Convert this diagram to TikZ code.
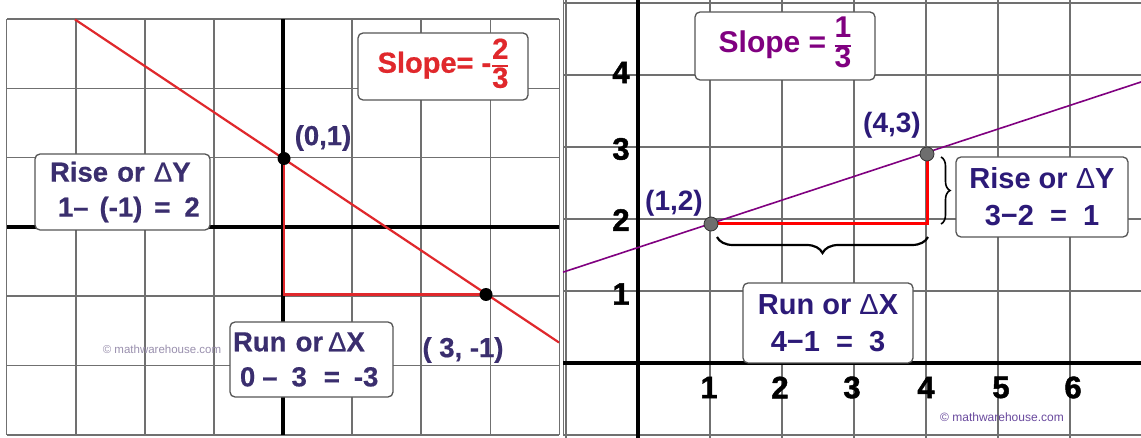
\documentclass[tikz,border=0pt]{standalone}
\usepackage{fontspec}
\setmainfont{Liberation Sans}
\newfontfamily\tickfont{Liberation Sans}[FakeBold=1.5]
\newfontfamily\semifont{Liberation Sans}[FakeBold=0.6]
\usetikzlibrary{decorations.pathreplacing}
\definecolor{lnavy}{HTML}{3A2E6E}
\definecolor{lred}{HTML}{E0282C}
\definecolor{rpurp}{HTML}{800080}
\definecolor{rind}{HTML}{2C1A78}
\definecolor{gridc}{HTML}{707070}
\definecolor{boxc}{HTML}{555555}
\definecolor{dotc}{HTML}{6E6E6E}
\definecolor{wmr}{HTML}{6A4A9E}
\definecolor{wml}{HTML}{9A90AE}
\setlength\arrayrulewidth{2pt}
\newcommand{\vfrac}[2]{{\renewcommand\arraystretch{0.74}\begin{tabular}[c]{@{}c@{}}#1\\\hline#2\end{tabular}}}
\tikzset{
  lgrid/.style={draw=gridc, line width=1.6pt},
  rgrid/.style={draw=gridc, line width=1.3pt},
  axisline/.style={draw=black, line width=4pt},
  tbox/.style={draw=boxc, line width=1.3pt, rounded corners=5pt, fill=white, inner sep=0pt, align=center},
  lbox/.style={tbox, align=left, inner ysep=0pt},
  ltext/.style={font=\fontsize{27.5pt}{35pt}\semifont\bfseries, text=lnavy},
  rtext/.style={font=\fontsize{29pt}{37pt}\selectfont\bfseries, text=rind},
  lab/.style={inner sep=0pt},
  tick/.style={inner sep=0pt, font=\fontsize{31pt}{31pt}\tickfont\bfseries, text=black},
  ldot/.style={circle, fill=black, inner sep=0pt, minimum size=13pt},
  rdot/.style={circle, fill=dotc, draw=black!80, line width=0.8pt, inner sep=0pt, minimum size=14pt},
  bracel/.style={draw=black, decorate, decoration={brace, amplitude=#1}},
}
\begin{document}
\begin{tikzpicture}[x=1pt, y=-1pt]
\useasboundingbox (0,0) rectangle (1141,438);
\fill[white] (0,0) rectangle (1141,438);

% ---------------- left panel ----------------
\foreach \i in {-4,...,4} \draw[lgrid] ({283+69.1*\i},19.5) -- ({283+69.1*\i},435);
\foreach \j in {-3,...,3} \draw[lgrid] (7,{227+69.3*\j}) -- (559,{227+69.3*\j});
\draw[axisline] (283,19.5) -- (283,435);
\draw[axisline] (7,227) -- (559,227);

\coordinate (LA) at (75,19.5);
\coordinate (LB) at (559,342.5);
\coordinate (L01) at (284,158.5);
\coordinate (L3m1) at (486,294.5);
\draw[lred, line width=2.2pt] (LA) -- (LB);
\draw[lred, line width=2.2pt] (L01) -- (L01 |- L3m1) -- (L3m1);
\node[ldot] (d01) at (L01) {};
\node[ldot] (d3m1) at (L3m1) {};

\node[tbox, minimum width=170pt, minimum height=67pt, font=\fontsize{29pt}{30pt}\semifont\bfseries, text=lred] (slopeL) at (443,66.5) {Slope=\ -\hspace{1pt}\vfrac{2}{3}};
\node[lab, ltext] (lab01) at (323,138) {(0,1)};
\node[lbox, ltext, inner xsep=7pt, text width=161pt, minimum height=76pt] (riseL) at (122.5,192) {\hspace*{8pt}Rise or {\mdseries Δ}Y\\\hspace*{16pt}1–\hspace{11pt}(-1)\hspace{12pt}=\hspace{14pt}2};
\node[lbox, ltext, inner xsep=3pt, text width=157pt, minimum height=75pt] (runL) at (311.5,359.5) {Run or\hspace{5pt}{\mdseries Δ}X\\\hspace*{7pt}0\hspace{7pt}–\hspace{14pt}3\hspace{17pt}=\hspace{14pt}-3};
\node[lab, ltext] (lab3m1) at (463,350) {( 3, -1)};
\node[lab, font=\fontsize{11.5pt}{12pt}\selectfont, text=wml] (wmL) at (162,349) {© mathwarehouse.com};

% ---------------- right panel ----------------
\begin{scope}
\clip (563,0) rectangle (1141,438);
\foreach \i in {-1,...,7} \draw[rgrid] ({638+72*\i},0) -- ({638+72*\i},438);
\foreach \j in {-1,...,5} \draw[rgrid] (563,{363-72*\j}) -- (1141,{363-72*\j});
\end{scope}
\draw[rgrid] (563.5,0) -- (563.5,436);
\draw[axisline] (638,0) -- (638,438);
\draw[axisline] (563,363) -- (1141,363);

\coordinate (RA) at (563,272.2);
\coordinate (RB) at (1141,82);
\coordinate (P12) at (711,224);
\coordinate (P43) at (927,154);
\draw[rpurp, line width=1.6pt] (RA) -- (RB);
\draw[red, line width=3pt] (P12) -| (P43);
\node[rdot] (d12) at (P12) {};
\node[rdot] (d43) at (P43) {};

\coordinate (bh1) at (717,237);
\coordinate (bh2) at (928,237);
\draw[bracel=16pt, decoration={mirror}, line width=2.2pt] (bh1) -- (bh2);
\coordinate (bv1) at (941,157);
\coordinate (bv2) at (941,224);
\draw[bracel=9pt, line width=1.6pt] (bv1) -- (bv2);

\node[tbox, minimum width=180pt, minimum height=68pt, font=\fontsize{30pt}{32pt}\selectfont\bfseries, text=rpurp] (slopeR) at (785,46) {Slope =\ \vfrac{1}{3}};
\node[lab, rtext, font=\fontsize{28pt}{30pt}\selectfont\bfseries] (lab43) at (892,125) {(4,3)};
\node[lab, rtext, font=\fontsize{28pt}{30pt}\selectfont\bfseries] (lab12) at (674,203) {(1,2)};
\node[tbox, rtext, minimum width=172pt, minimum height=80pt] (riseR) at (1042,197) {Rise or {\mdseries Δ}Y\\3−2\ \ =\ \ 1};
\node[tbox, rtext, minimum width=170pt, minimum height=80pt] (runR) at (828,323) {Run or {\mdseries Δ}X\\4−1\ \ =\ \ 3};

\node[tick] (ty4) at (621,72.5) {4};
\node[tick] (ty3) at (621,149) {3};
\node[tick] (ty2) at (621,220) {2};
\node[tick] (ty1) at (621,294) {1};
\node[tick] (tx1) at (709,387.5) {1};
\node[tick] (tx2) at (780,387.5) {2};
\node[tick] (tx3) at (852,387.5) {3};
\node[tick] (tx4) at (926,387.5) {4};
\node[tick] (tx5) at (1001,387.5) {5};
\node[tick] (tx6) at (1073,387.5) {6};
\node[lab, font=\fontsize{12pt}{13pt}\selectfont, text=wmr] (wmR) at (1002,417) {© mathwarehouse.com};
\end{tikzpicture}
\end{document}
